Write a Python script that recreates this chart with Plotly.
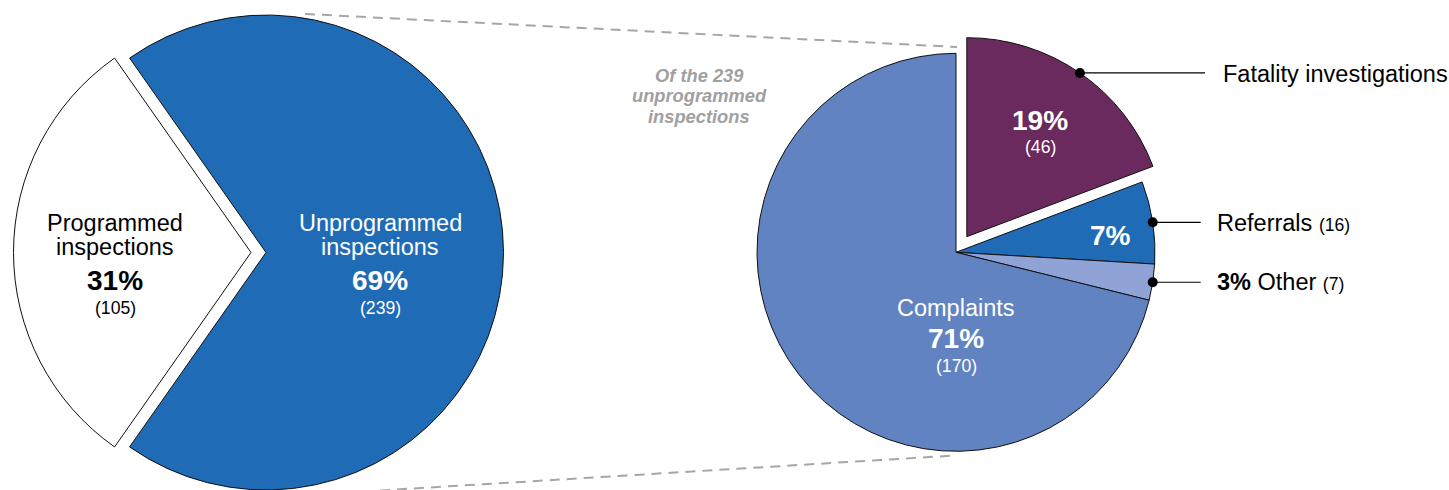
import math
import plotly.graph_objects as go

W, H = 1449, 490

# ---------------- data ----------------
overview_labels = ["Unprogrammed inspections", "Programmed inspections"]
overview_values = [239, 105]
overview_pct = ["69%", "31%"]

breakdown_labels = ["Fatality investigations", "Referrals", "Other", "Complaints"]
breakdown_values = [46, 16, 7, 170]
breakdown_pct = ["19%", "7%", "3%", "71%"]

# ---------------- styles ----------------
FONT = "Liberation Sans, Arial, Helvetica, sans-serif"
BLUE = "#1f6bb5"
WHITE = "#ffffff"
CLEAR = "rgba(0,0,0,0)"
PURPLE = "#6b2a5d"
LIGHT = "#8fa3d6"
MID = "#6283c1"
GREY = "#a6a6a6"
S_BASE, S_PCT, S_CNT = 23.5, 28, 17.6


def px(x):
    return x / W


def py(y):
    return 1 - y / H


# left pie geometry (pixels)
L_R = 237.5
L_CY = 252.5
L_CX_MAIN = 266
L_CX_OUT = 251
L_ROT = -360 * overview_values[0] / sum(overview_values) / 2 + 90

# right pie geometry (pixels)
R_R = 199
R_CX, R_CY = 956, 252.3
R_PULL = 0.0955


def dom_x(cx, half):
    return [px(cx - half), px(cx + half)]


def dom_y(cy, half):
    return [max(0, py(cy + half)), min(1, py(cy - half))]


fig = go.Figure()

# left pie: unprogrammed slice
fig.add_trace(go.Pie(
    labels=overview_labels, values=overview_values, sort=False,
    direction="clockwise", rotation=L_ROT, textinfo="none", hoverinfo="label+value",
    marker=dict(colors=[BLUE, CLEAR], line=dict(color=["#111", CLEAR], width=[1, 0])),
    domain=dict(x=dom_x(L_CX_MAIN, L_R), y=dom_y(L_CY, L_R)),
    showlegend=False,
))
# left pie: exploded programmed slice
fig.add_trace(go.Pie(
    labels=overview_labels, values=overview_values, sort=False,
    direction="clockwise", rotation=L_ROT, textinfo="none", hoverinfo="label+value",
    marker=dict(colors=[CLEAR, WHITE], line=dict(color=[CLEAR, "#111"], width=[0, 1])),
    domain=dict(x=dom_x(L_CX_OUT, L_R), y=dom_y(L_CY, L_R)),
    showlegend=False,
))

# right pie
half_r = R_R * (1 + R_PULL)
fig.add_trace(go.Pie(
    labels=breakdown_labels, values=breakdown_values, sort=False,
    direction="clockwise", rotation=0, textinfo="none", hoverinfo="label+value",
    pull=[R_PULL, 0, 0, 0],
    marker=dict(colors=[PURPLE, BLUE, LIGHT, MID], line=dict(color="#111", width=1)),
    domain=dict(x=dom_x(R_CX, half_r), y=dom_y(R_CY, half_r)),
    showlegend=False,
))

ann = []


def text(x, y, t, size, color="black", bold=False, italic=False, xanchor="center"):
    if bold:
        t = "<b>" + t + "</b>"
    if italic:
        t = "<i>" + t + "</i>"
    ann.append(dict(x=px(x), y=py(y), xref="paper", yref="paper", text=t,
                    showarrow=False, xanchor=xanchor, yanchor="middle",
                    font=dict(family=FONT, size=size, color=color)))


# left pie labels
text(115.5, 222.5, "Programmed", S_BASE)
text(115.5, 247, "inspections", S_BASE)
text(115.5, 280, overview_pct[1], S_PCT, bold=True)
text(115.5, 307.5, "(%d)" % overview_values[1], S_CNT)

text(380, 222.5, "Unprogrammed", S_BASE, WHITE)
text(380, 247, "inspections", S_BASE, WHITE)
text(380, 280, overview_pct[0], S_PCT, WHITE, bold=True)
text(380, 307.5, "(%d)" % overview_values[0], S_CNT, WHITE)

# right pie labels
text(1040, 121, breakdown_pct[0], S_PCT, WHITE, bold=True)
text(1040, 147, "(%d)" % breakdown_values[0], S_CNT, WHITE)
text(1110, 235, breakdown_pct[1], S_PCT, WHITE, bold=True)
text(956, 308, breakdown_labels[3], S_BASE, WHITE)
text(956, 338.5, breakdown_pct[3], S_PCT, WHITE, bold=True)
text(956, 365.5, "(%d)" % breakdown_values[3], S_CNT, WHITE)

# caption
CAP = 18.3
text(699, 75, "Of the 239", CAP, "#a0a0a0", bold=True, italic=True)
text(699, 95.5, "unprogrammed", CAP, "#a0a0a0", bold=True, italic=True)
text(699, 116.5, "inspections", CAP, "#a0a0a0", bold=True, italic=True)

# outside labels with leader lines
total = sum(breakdown_values)
cum = 0
mids = []
for v in breakdown_values:
    mids.append((cum + v / 2) / total * 2 * math.pi)
    cum += v

shapes = []


def dot_line(cx, cy, ang, x_end):
    dx, dy = cx + R_R * math.sin(ang), cy - R_R * math.cos(ang)
    shapes.append(dict(type="line", xref="paper", yref="paper",
                       x0=px(dx), y0=py(dy), x1=px(x_end), y1=py(dy),
                       line=dict(color="black", width=1.2)))
    rr = 5
    shapes.append(dict(type="circle", xref="paper", yref="paper",
                       x0=px(dx - rr), x1=px(dx + rr), y0=py(dy + rr), y1=py(dy - rr),
                       fillcolor="black", line=dict(color="black", width=0)))
    return dy


fcx = R_CX + R_PULL * R_R * math.sin(mids[0])
fcy = R_CY - R_PULL * R_R * math.cos(mids[0])
y_f = dot_line(fcx, fcy, mids[0], 1205)
y_r = dot_line(R_CX, R_CY, mids[1], 1200.7)
y_o = dot_line(R_CX, R_CY, mids[2], 1200.7)

text(1220.7, y_f + 1, breakdown_labels[0], S_BASE, xanchor="left")
text(1215, y_r + 1, breakdown_labels[1] + " <span style='font-size:%spx'>(%d)</span>" % (S_CNT, breakdown_values[1]),
     S_BASE, xanchor="left")
text(1215, y_o, "<b>%s</b> %s <span style='font-size:%spx'>(%d)</span>" % (breakdown_pct[2], breakdown_labels[2], S_CNT, breakdown_values[2]),
     S_BASE, xanchor="left")

# dashed connector lines
for (x0, y0, x1, y1) in [(305, 14, 957, 47), (380, 490.5, 955, 455.5)]:
    shapes.append(dict(type="line", xref="paper", yref="paper",
                       x0=px(x0), y0=py(y0), x1=px(x1), y1=py(y1),
                       line=dict(color=GREY, width=2, dash="10px,7px"), layer="below"))

fig.update_layout(
    width=W, height=H, margin=dict(l=0, r=0, t=0, b=0),
    paper_bgcolor="white", plot_bgcolor="white",
    annotations=ann, shapes=shapes, showlegend=False,
)

fig.write_html("out.html", config={"displayModeBar": False},
               post_script="document.body.style.margin='0';document.body.style.overflow='hidden';")
